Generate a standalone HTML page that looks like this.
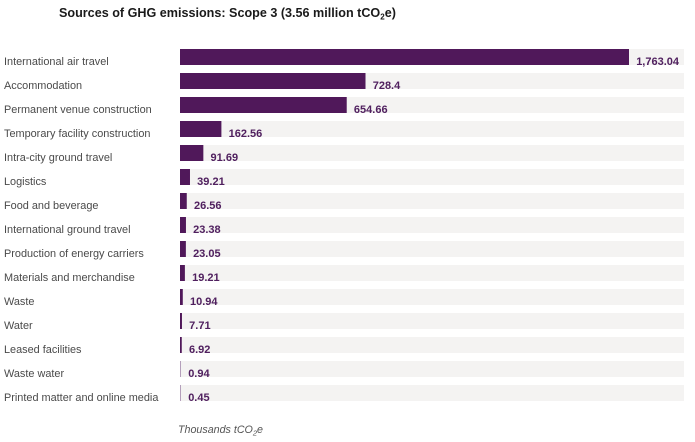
<!DOCTYPE html>
<html lang="en">
<head>
<meta charset="utf-8">
<title>Sources of GHG emissions: Scope 3</title>
<style>
html,body{margin:0;padding:0;background:#fff;}
body{width:695px;height:442px;overflow:hidden;}
svg{display:block;font-family:"Liberation Sans",sans-serif;}
</style>
</head>
<body>
<svg id="chart" width="695" height="442" viewBox="0 0 695 442" xmlns="http://www.w3.org/2000/svg">
  <text x="59" y="17" font-size="12.6" font-weight="700" fill="#1a1a1a">Sources of GHG emissions: Scope 3 (3.56 million tCO<tspan font-size="8" dy="2.5">2</tspan><tspan dy="-2.5">e)</tspan></text>
  <g id="rows"></g>
  <text x="178" y="433" font-size="10.7" font-style="italic" fill="#555">Thousands tCO<tspan font-size="7.5" dy="2.5">2</tspan><tspan dy="-2.5">e</tspan></text>
</svg>
<script>
const categories = ["International air travel","Accommodation","Permanent venue construction","Temporary facility construction","Intra-city ground travel","Logistics","Food and beverage","International ground travel","Production of energy carriers","Materials and merchandise","Waste","Water","Leased facilities","Waste water","Printed matter and online media"];
const values = [1763.04,728.4,654.66,162.56,91.69,39.21,26.56,23.38,23.05,19.21,10.94,7.71,6.92,0.94,0.45];
const valueLabels = ["1,763.04","728.4","654.66","162.56","91.69","39.21","26.56","23.38","23.05","19.21","10.94","7.71","6.92","0.94","0.45"];

const NS = "http://www.w3.org/2000/svg";
const plotLeft = 180, plotRight = 684, firstTop = 49, rowStep = 24, barHeight = 16;
const pxPerUnit = 449 / 1763.04;
const xWidth = v => v * pxPerUnit;
const yTop = i => firstTop + i * rowStep;
const rows = document.getElementById("rows");

function make(tag, attrs, text) {
  const el = document.createElementNS(NS, tag);
  for (const k in attrs) el.setAttribute(k, attrs[k]);
  if (text !== undefined) el.textContent = text;
  return el;
}

categories.forEach((cat, i) => {
  const y = yTop(i);
  const w = xWidth(values[i]);
  const thin = w < 1;

  const track = make("rect", {x: plotLeft, y: y, width: plotRight - plotLeft, height: barHeight, fill: "#f4f3f2"});
  
  
  rows.appendChild(track);

  const label = make("text", {x: 4, y: y + 16, "font-size": 10.9, fill: "#4a4a4a"}, cat);
  
  
  rows.appendChild(label);

  const bar = make("rect", {x: plotLeft, y: y, width: Math.max(w, 1), height: barHeight, fill: thin ? "#b49fbb" : "#50185a"});
  
  
  rows.appendChild(bar);

  const val = make("text", {x: plotLeft + Math.max(w, 1) + 7.2, y: y + 16, "font-size": 11, "font-weight": 700, fill: "#50205f"}, valueLabels[i]);
  
  
  rows.appendChild(val);
});
</script>
</body>
</html>
